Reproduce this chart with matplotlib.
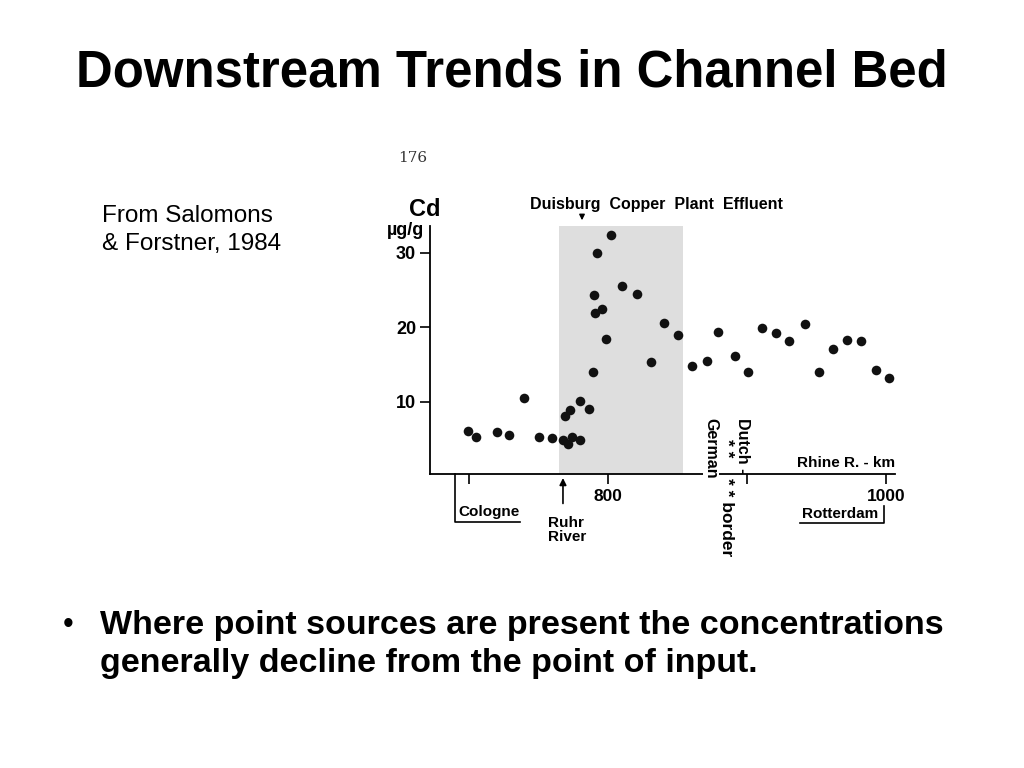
import matplotlib
matplotlib.use("Agg")
import matplotlib.pyplot as plt

plt.rcParams['font.family'] = ['Liberation Sans', 'DejaVu Sans']

# Cd in channel bed sediments along the Rhine (Salomons & Forstner, 1984)
river_km = [699.5, 705, 720.4, 729, 739.6, 750, 760, 767.4, 771, 774.3, 779.6,
            769, 772.4, 780, 786.6, 789.4, 798.3, 790.6, 795.4, 790, 792.1,
            802.2, 810.3, 820.6, 840.5, 850.6, 830.7, 860.4, 871.2, 879.4,
            891.4, 900.5, 910.8, 920.9, 930.2, 941.7, 951.6, 962.1, 971.9,
            982, 992.8, 1002.2]
cd_ugg = [6.1, 5.2, 5.9, 5.5, 10.5, 5.3, 5.1, 4.9, 4.3, 5.2, 4.9,
          8.05, 8.8, 10.1, 9.0, 14.0, 18.4, 21.9, 22.4, 24.3, 30.0,
          32.3, 25.5, 24.4, 20.6, 18.9, 15.3, 14.8, 15.5, 19.3,
          16.1, 13.9, 19.9, 19.2, 18.1, 20.4, 13.9, 17.1, 18.2,
          18.1, 14.2, 13.2]

effluent_zone = (764.7, 854)
y_ticks = [10, 20, 30]
x_ticks = [700, 800, 900, 1000]
x_labels = ['', '800', '', '1000']
cologne_km = 690
ruhr_km = 767.6
duisburg_km = 781.3
german_km = 874.1
stars_km = 885.6
dutch_km = 897.1
rotterdam_km = 1000

fig = plt.figure(figsize=(10.24, 7.68), dpi=100)
fig.patch.set_facecolor('white')

fig.text(0.5, 0.905, 'Downstream Trends in Channel Bed', ha='center', va='center',
         fontsize=36.6, fontweight='bold')
fig.text(0.1, 0.701, 'From Salomons\n& Forstner, 1984', ha='left', va='center',
         fontsize=17.5, linespacing=1.35)
fig.text(0.061, 0.186, '\u2022', ha='left', va='center', fontsize=22)
fig.text(0.098, 0.161, 'Where point sources are present the concentrations\n'
         'generally decline from the point of input.', ha='left', va='center',
         fontsize=24.5, fontweight='bold', linespacing=1.3)
fig.text(0.403, 0.794, '176', fontsize=11, family='DejaVu Serif', ha='center', va='center',
         color='#333333')

ax = fig.add_axes([0.4199, 0.3828, 0.4541, 0.3229])
ax.axvspan(effluent_zone[0], effluent_zone[1], color='#dedede', zorder=0, lw=0)
ax.scatter(river_km, cd_ugg, s=48, color='#111111', zorder=3, lw=0)

ax.set_xlim(671.9, 1006.5)
ax.set_ylim(0.27, 33.56)
for s in ['top', 'right']:
    ax.spines[s].set_visible(False)
ax.spines['left'].set_linewidth(1.3)
ax.spines['bottom'].set_linewidth(1.3)
ax.set_yticks(y_ticks)
ax.set_yticklabels([str(v) for v in y_ticks], fontsize=13, fontweight='bold')
ax.set_xticks(x_ticks)
ax.set_xticklabels(x_labels, fontsize=12.5, fontweight='bold')
ax.tick_params(axis='y', length=7, width=1.2, pad=3)
ax.tick_params(axis='x', length=7, width=1.2, pad=4)

tr = ax.get_xaxis_transform()
ax.text(-0.045, 1.065, 'Cd', transform=ax.transAxes, fontsize=17, fontweight='bold',
        ha='left', va='center')
ax.text(-0.093, 0.98, '\u00b5g/g', transform=ax.transAxes, fontsize=13, fontweight='bold',
        ha='left', va='center')
ax.text(834.5, 1.085, 'Duisburg  Copper  Plant  Effluent', transform=tr,
        fontsize=11.5, fontweight='bold', ha='center', va='center')
ax.annotate('', xy=(duisburg_km, 1.012), xytext=(duisburg_km, 1.052), xycoords=tr,
            arrowprops=dict(arrowstyle='-|>', color='black', lw=1, mutation_scale=8))
ax.text(1.0, 0.045, 'Rhine R. - km', transform=ax.transAxes, fontsize=11, fontweight='bold',
        ha='right', va='center')

# Cologne bracket
ax.plot([cologne_km, cologne_km, cologne_km + 47], [0, -0.194, -0.194], transform=tr,
        color='black', lw=1.2, clip_on=False)
ax.text(cologne_km + 2.5, -0.153, 'Cologne', transform=tr, fontsize=11, fontweight='bold',
        ha='left', va='center')
# Ruhr arrow
ax.annotate('', xy=(ruhr_km, -0.005), xytext=(ruhr_km, -0.13), xycoords=tr,
            arrowprops=dict(arrowstyle='-|>', color='black', lw=1.2, mutation_scale=10))
ax.text(ruhr_km - 11, -0.225, 'Ruhr\nRiver', transform=tr, fontsize=11, fontweight='bold',
        ha='left', va='center', linespacing=1.05)
# Rotterdam bracket
ax.plot([rotterdam_km - 1.5, rotterdam_km - 1.5, rotterdam_km - 62], [-0.13, -0.197, -0.197],
        transform=tr, color='black', lw=1.2, clip_on=False)
ax.text(rotterdam_km - 5.5, -0.161, 'Rotterdam', transform=tr, fontsize=11, fontweight='bold',
        ha='right', va='center')
# German - Dutch border
ax.text(german_km, 0.227, 'German', transform=tr, rotation=270, fontsize=11.5,
        fontweight='bold', ha='center', va='top',
        bbox=dict(facecolor='white', edgecolor='none', pad=0.3))
ax.text(dutch_km, 0.227, 'Dutch -', transform=tr, rotation=270, fontsize=11.5,
        fontweight='bold', ha='center', va='top')
ax.text(stars_km, 0.14, '* *', transform=tr, rotation=270, fontsize=12.5,
        fontweight='bold', ha='center', va='top')
ax.text(stars_km, -0.015, '* * border', transform=tr, rotation=270, fontsize=12.5,
        fontweight='bold', ha='center', va='top')

fig.savefig('out.png', dpi=100, facecolor='white')
